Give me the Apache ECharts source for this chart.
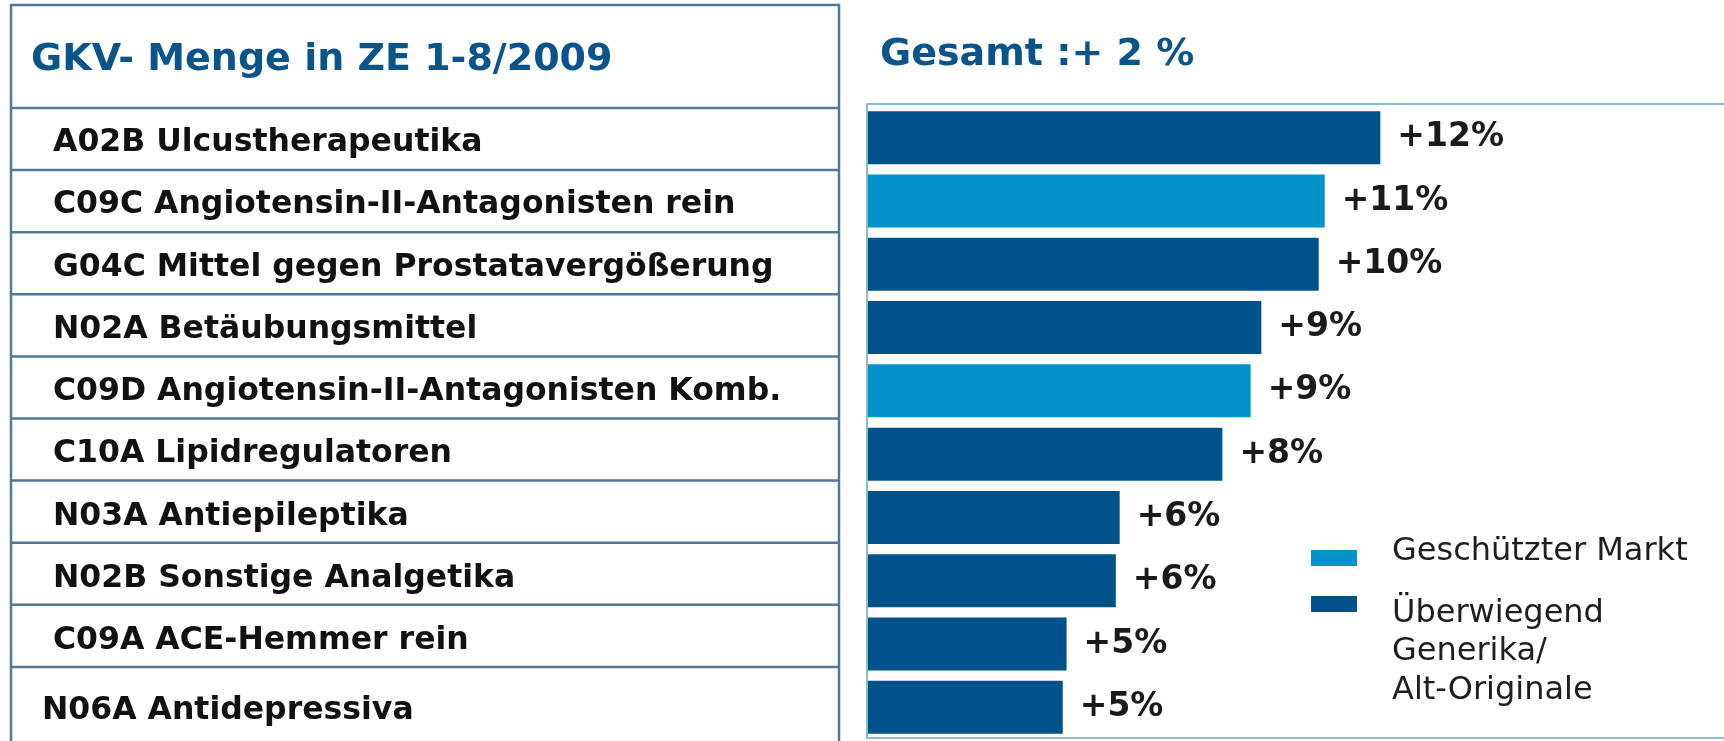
<!DOCTYPE html>
<html lang="de">
<head>
  <meta charset="utf-8">
  <script src="https://cdn.jsdelivr.net/npm/echarts@6.0.0/dist/echarts.min.js"></script>
</head>
<body style="margin: 0; background: #fff">
  <div id="container" style="width: 1724px; height: 741px"></div>
  <script type="text/javascript">
    // ATC groups, top to bottom
    var categories = [
      'A02B Ulcustherapeutika',
      'C09C Angiotensin-II-Antagonisten rein',
      'G04C Mittel gegen Prostatavergößerung',
      'N02A Betäubungsmittel',
      'C09D Angiotensin-II-Antagonisten Komb.',
      'C10A Lipidregulatoren',
      'N03A Antiepileptika',
      'N02B Sonstige Analgetika',
      'C09A ACE-Hemmer rein',
      'N06A Antidepressiva'
    ];
    // growth in % and the printed labels
    var growth = [11.97, 10.67, 10.53, 9.19, 8.94, 8.28, 5.88, 5.79, 4.64, 4.55];
    var growthLabels = ['+12%', '+11%', '+10%', '+9%', '+9%', '+8%', '+6%', '+6%', '+5%', '+5%'];
    // p = Geschützter Markt, g = Überwiegend Generika/Alt-Originale
    var market = ['g', 'p', 'g', 'g', 'p', 'g', 'g', 'g', 'g', 'g'];

    var title = 'GKV- Menge in ZE 1-8/2009';
    var subtitle = 'Gesamt :+ 2 %';
    var legendNames = ['Geschützter Markt', 'Überwiegend\nGenerika/\nAlt-Originale'];

    var DARK = '#00528a';
    var LIGHT = '#0092c9';
    var LINE = '#52779a';
    var FONT = '"DejaVu Sans", sans-serif';

    var chart = echarts.init(document.getElementById('container'), null, { renderer: 'canvas' });

    function pick(key) {
      return growth.map(function (v, i) { return market[i] === key ? v : '-'; });
    }

    var labelOpt = {
      show: true,
      position: 'right',
      distance: 17,
      fontFamily: FONT,
      fontWeight: 'bold',
      fontSize: 33,
      color: '#1a1a1a',
      formatter: function (p) { return growthLabels[p.dataIndex]; }
    };

    // table rows don't share the bar pitch exactly: nudge each label to its row
    var rowShift = [5.4, 4.3, 3.3, 2.2, 1.1, 0.1, -1, -2, -3, 3.6];
    var rich = {};
    rowShift.forEach(function (d, i) {
      var left = i < rowShift.length - 1 ? 11 : 0;
      rich['r' + i] = {
        fontFamily: FONT, fontWeight: 'bold', fontSize: 31.5, color: '#111',
        padding: d >= 0 ? [2 * d, 0, 0, left] : [0, 0, -2 * d, left]
      };
    });

    // table frame + row lines
    var graphics = [
      { type: 'rect', shape: { x: 11, y: 5, width: 828, height: 800 },
        style: { fill: 'none', stroke: LINE, lineWidth: 2.5 } },
      { type: 'rect', shape: { x: 867, y: 104, width: 900, height: 634 },
        style: { fill: 'none', stroke: '#86bfca', lineWidth: 2 }, z: 0 },
      { type: 'text', x: 31, y: 60,
        style: { text: title, fill: '#0a548c', font: 'bold 38px ' + FONT, verticalAlign: 'middle' } },
      { type: 'text', x: 880, y: 55,
        style: { text: subtitle, fill: '#0a548c', font: 'bold 38px ' + FONT, verticalAlign: 'middle' } },
      { type: 'rect', shape: { x: 1311, y: 550, width: 46, height: 16 }, style: { fill: LIGHT } },
      { type: 'rect', shape: { x: 1311, y: 596, width: 46, height: 16 }, style: { fill: DARK } },
      { type: 'text', x: 1392, y: 552,
        style: { text: legendNames[0], fill: '#1e1e1e', font: '32px ' + FONT, verticalAlign: 'middle' } },
      { type: 'text', x: 1392, y: 652,
        style: { text: legendNames[1], fill: '#1e1e1e', font: '32px ' + FONT, lineHeight: 38.5, verticalAlign: 'middle' } }
    ];
    for (var i = 0; i < 10; i++) {
      var y = 108 + i * 62.1;
      graphics.push({ type: 'line', shape: { x1: 11, y1: y, x2: 839, y2: y },
        style: { stroke: LINE, lineWidth: 2.5 } });
    }

    var option = {
      animation: false,
      grid: { left: 868, top: 106, width: 856, height: 633 },
      xAxis: {
        type: 'value', min: 0, max: 20,
        axisLine: { show: false }, axisTick: { show: false },
        axisLabel: { show: false }, splitLine: { show: false }
      },
      yAxis: {
        type: 'category',
        inverse: true,
        data: categories,
        axisLine: { show: false },
        axisTick: { show: false },
        axisLabel: {
          margin: 826,
          align: 'left',
          color: '#111',
          fontFamily: FONT,
          fontWeight: 'bold',
          fontSize: 31.5,
          formatter: function (v, idx) { return '{r' + idx + '|' + v + '}'; },
          rich: rich
        }
      },
      graphic: graphics,
      series: [
        {
          name: 'Geschützter Markt',
          type: 'bar',
          data: pick('p'),
          barWidth: 53,
          barGap: '-100%',
          itemStyle: { color: LIGHT },
          label: labelOpt
        },
        {
          name: 'Überwiegend Generika/Alt-Originale',
          type: 'bar',
          data: pick('g'),
          barWidth: 53,
          itemStyle: { color: DARK },
          label: labelOpt
        }
      ]
    };

    chart.setOption(option);
    window.addEventListener('resize', chart.resize);
  </script>
</body>
</html>
